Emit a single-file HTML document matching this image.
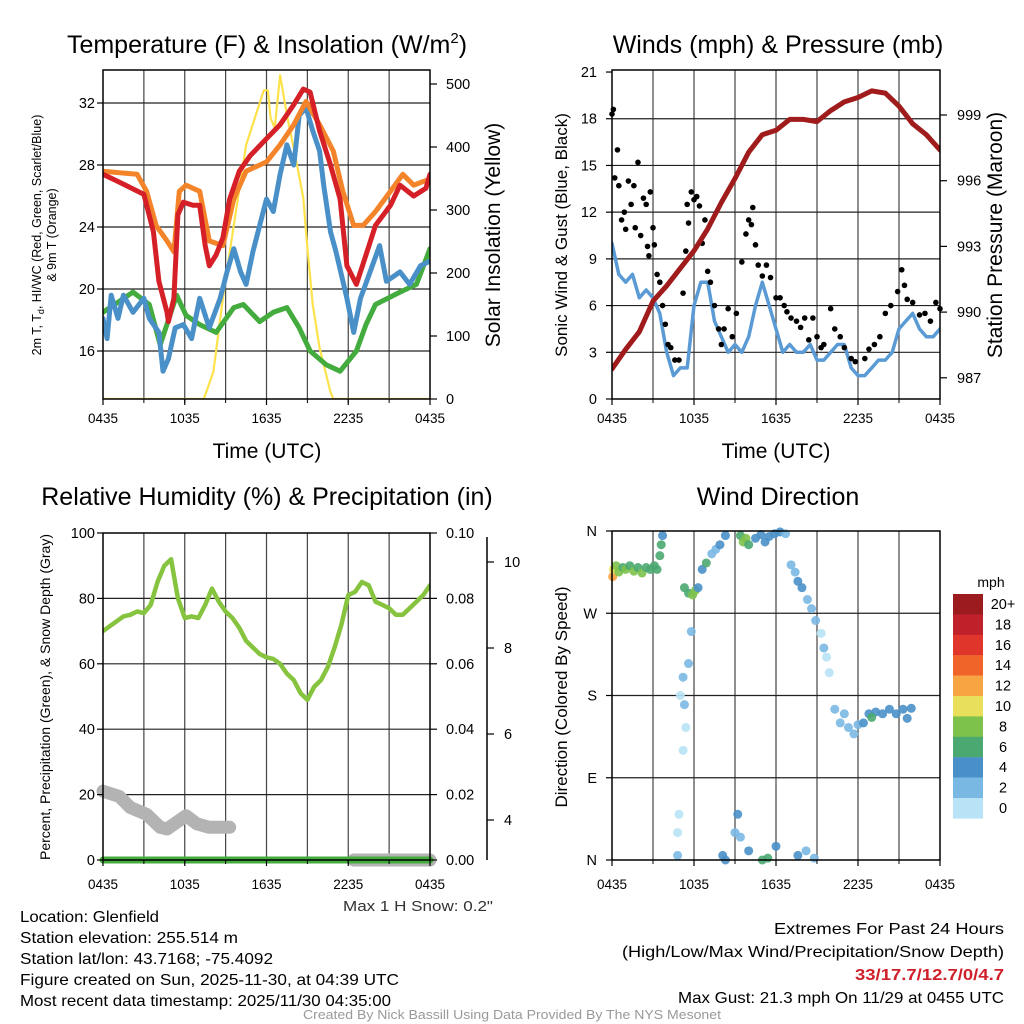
<!DOCTYPE html>
<html><head><meta charset="utf-8"><style>
body{margin:0;background:#fff;}
svg{display:block;font-family:"Liberation Sans",Arial,sans-serif;}
</style></head><body>
<svg id="fig" width="1024" height="1024" viewBox="0 0 1024 1024" xmlns="http://www.w3.org/2000/svg">
<rect width="1024" height="1024" fill="#fff"/>
<g id="grids"></g><g id="marks"></g><g id="axes"></g>
<g id="texts" font-size="16" fill="#000">
<text x="267" y="53" font-size="25" text-anchor="middle">Temperature (F) &amp; Insolation (W/m<tspan font-size="15" dy="-10">2</tspan><tspan dy="10">)</tspan></text>
<text x="778" y="53" font-size="25" text-anchor="middle">Winds (mph) &amp; Pressure (mb)</text>
<text x="267" y="505" font-size="25" text-anchor="middle">Relative Humidity (%) &amp; Precipitation (in)</text>
<text x="778" y="505" font-size="25" text-anchor="middle">Wind Direction</text>
<text x="267" y="458" font-size="21" text-anchor="middle">Time (UTC)</text>
<text x="776" y="458" font-size="21" text-anchor="middle">Time (UTC)</text>
<text font-size="12.5" text-anchor="middle" transform="translate(41,235) rotate(-90)">2m T, T<tspan font-size="9" dy="3">d</tspan><tspan dy="-3">, HI/WC (Red, Green, Scarlet/Blue)</tspan></text>
<text font-size="12.5" text-anchor="middle" transform="translate(56,235) rotate(-90)">&amp; 9m T (Orange)</text>
<text font-size="21" text-anchor="middle" transform="translate(500,235) rotate(-90)">Solar Insolation (Yellow)</text>
<text font-size="17" text-anchor="middle" transform="translate(567,235) rotate(-90)">Sonic Wind &amp; Gust (Blue, Black)</text>
<text font-size="21" text-anchor="middle" transform="translate(1002,235) rotate(-90)">Station Pressure (Maroon)</text>
<text font-size="14" text-anchor="middle" transform="translate(50,697) rotate(-90)">Percent, Precipitation (Green), &amp; Snow Depth (Gray)</text>
<text font-size="17" text-anchor="middle" transform="translate(567,697) rotate(-90)">Direction (Colored By Speed)</text>
<text x="343" y="911" font-size="15" fill="#333" textLength="150" lengthAdjust="spacingAndGlyphs">Max 1 H Snow: 0.2"</text>
<text x="20" y="922" textLength="139" lengthAdjust="spacingAndGlyphs">Location: Glenfield</text>
<text x="20" y="943" textLength="218" lengthAdjust="spacingAndGlyphs">Station elevation: 255.514 m</text>
<text x="20" y="964" textLength="253" lengthAdjust="spacingAndGlyphs">Station lat/lon: 43.7168; -75.4092</text>
<text x="20" y="985" textLength="379" lengthAdjust="spacingAndGlyphs">Figure created on Sun, 2025-11-30, at 04:39 UTC</text>
<text x="20" y="1006" textLength="371" lengthAdjust="spacingAndGlyphs">Most recent data timestamp: 2025/11/30 04:35:00</text>
<text x="774" y="934" textLength="230" lengthAdjust="spacingAndGlyphs">Extremes For Past 24 Hours</text>
<text x="622" y="957" textLength="382" lengthAdjust="spacingAndGlyphs">(High/Low/Max Wind/Precipitation/Snow Depth)</text>
<text x="855" y="980" fill="#d0202a" font-weight="bold" textLength="149" lengthAdjust="spacingAndGlyphs">33/17.7/12.7/0/4.7</text>
<text x="678" y="1003" textLength="326" lengthAdjust="spacingAndGlyphs">Max Gust: 21.3 mph On 11/29 at 0455 UTC</text>
<text x="303" y="1019" font-size="12.5" fill="#999" textLength="418" lengthAdjust="spacingAndGlyphs">Created By Nick Bassill Using Data Provided By The NYS Mesonet</text>
<text x="991" y="587" font-size="14" text-anchor="middle">mph</text>
</g>
</svg>
<script>
// ---- data ----
const xTickLabels = ["0435","1035","1635","2235","0435"];
const hourly = [0,1,2,3,4,5,6,7,8,9,10,11,12,13,14,15,16,17,18,19,20,21,22,23,24];
const halfHourly = [0,0.5,1,1.5,2,2.5,3,3.5,4,4.5,5,5.5,6,6.5,7,7.5,8,8.5,9,9.5,10,10.5,11,11.5,12,12.5,13,13.5,14,14.5,15,15.5,16,16.5,17,17.5,18,18.5,19,19.5,20,20.5,21,21.5,22,22.5,23,23.5,24];
const redHours = [0,1.2,3,3.7,4.1,4.7,4.8,5.2,5.5,5.9,6.6,7.1,7.5,7.8,8.3,8.8,9.3,10,10.8,12,13,14,14.7,15.2,15.9,16.7,17.4,17.9,18.6,19.3,20,21.1,21.8,22.8,23.7,24];
const tempRed = [27.4,26.9,26.1,23.7,20.5,18.5,17.9,19.4,24.8,25.6,25.4,25.4,22.8,21.5,22.2,23.3,25.8,27.6,28.6,29.7,30.6,31.9,32.9,32.7,30.2,28,25.8,21.5,20.3,22.2,24.1,25.4,26.7,26,26.5,27.4];
const orangeHours = [0,2.5,3.2,3.9,4.7,5.2,5.6,6.1,7.1,7.8,8.8,9.6,10.5,12,13,14,14.9,15.9,16.9,17.6,18.4,19.1,20,21.1,22,22.8,24];
const tempOrange = [27.6,27.4,26.3,24.1,23.1,22.4,26.3,26.7,26.3,23.1,22.8,25.8,27.6,28.2,29.3,30.6,32.1,30.6,28.9,26.3,24.1,24.1,25,26.3,27.4,26.7,27.1];
const blueHours = [0,0.3,0.6,1.1,1.5,2.2,3,3.4,4.1,4.4,4.8,5.3,5.9,6.5,7.1,7.8,8.6,9.1,9.6,10.1,10.5,11,11.5,12,12.5,13,13.5,14,14.4,14.9,15.4,15.9,16.2,16.7,17.1,17.9,18.4,18.9,19.6,20.3,20.8,21.8,22.5,23.3,24];
const dewBlue = [18.1,16.8,19.6,18.1,19.6,18.5,19.4,18.1,17.2,14.7,15.5,17.5,17.7,16.8,19.4,17.5,19.4,21.1,22.6,21.1,20.3,22.4,24.1,25.8,25,27.4,29.3,28,31.2,31.7,30.2,28.9,26.7,23.7,22.4,19.4,17.2,19.4,21.1,22.8,20.5,21.1,20.3,21.5,21.8];
const greenHours = [0,2.2,3.4,4.2,5.4,6.1,7.1,8.3,9.6,10.3,11.5,12.5,13.5,14.4,15.2,16.4,17.4,18.6,19.3,20,21.8,23,24];
const dewGreen = [18.5,19.8,19,16.4,19.6,18.3,17.7,17.2,18.8,19,17.9,18.5,18.8,17.5,16,15.1,14.7,16,17.7,19,19.8,20.3,22.6];
const solarHours = [0,7.4,8.1,8.8,9.6,10.5,11.8,12.1,12.3,12.6,13,13.5,14.2,14.7,15,15.4,15.9,16.7,16.9,24];
const solar = [0,0,43,160,276,403,490,490,446,430,514,451,376,319,240,149,81,11,0,0];
const windSpeed = [10,8,7.5,8,6.5,7,6.5,5.5,3,1.5,2,2,6,7.5,7.5,5,4,3,3.5,3,4,6,7.5,6,4.5,3,3.5,3,3,3.5,2.5,2.5,3,3.5,3.5,2,1.5,1.5,2,2.5,2.5,3,4.5,5,5.5,4.5,4,4,4.5];
const gustHours = [0,0.1,0.2,0.4,0.5,0.7,0.9,1,1.2,1.4,1.6,1.7,1.9,2.1,2.3,2.5,2.6,2.7,2.8,3,3.1,3.3,3.5,3.7,3.9,4.1,4.3,4.6,4.9,5.2,5.4,5.5,5.6,5.8,6,6.2,6.4,6.6,6.8,7,7.2,7.5,7.8,8,8.2,8.5,8.8,9.1,9.5,9.8,10,10.2,10.3,10.5,10.7,11,11.3,11.6,12,12.3,12.6,12.8,13.1,13.5,13.8,14.1,14.4,14.7,15,15.3,15.5,16,16.3,16.7,17,17.5,17.8,18.5,18.8,19.2,19.6,20,20.4,20.9,21.2,21.4,21.6,22,22.5,22.9,23.3,23.7,24];
const gusts = [18.3,18.6,14.2,16,13.7,11.5,12,10.9,14,12.5,13.7,11,15.2,10.5,12.9,12.5,9.8,9.2,13.3,11,9.9,8,7.5,6,4.8,3.5,3.3,2.5,2.5,6.8,9.5,12.5,11.3,13.3,12.8,13,12.4,10,11.5,8.2,7.5,6,4.5,3.5,4.5,5.8,4,5.5,8.8,10.6,11.5,11.2,12.3,9.9,8.6,7.9,8.6,7.8,6.5,6.5,6,5.6,5.2,5,4.6,5.2,3.8,5.2,4,3.3,3.5,5.8,4.5,4,3.3,2.6,2.4,2.6,3.2,3.5,4,5.5,6,6.9,8.3,7.3,6.4,6.2,5.4,5.5,5,6.2,5.8];
const pressure = [987.4,988.3,989.1,990.5,991.2,992,992.8,993.8,995,996.1,997.3,998.1,998.3,998.8,998.8,998.7,999.2,999.6,999.8,1000.1,1000,999.4,998.6,998.1,997.4];
const rh = [70,71.5,73,74.5,75,76,75.5,78,85,90,92,80,74,74.5,74,78,83,79,76,74,71,67,65,63,62,61.5,60,57,55,51,49,53,55,59,65,72,81,82,85,84,79,78,77,75,75,77,79,81,84];
const snowHours1 = [0,1.2,2,3.2,4.2,4.7,6.1,6.9,7.8,9.3];
const snowDepth1 = [4.67,4.55,4.29,4.13,3.83,3.79,4.1,3.91,3.83,3.83];
const snowHours2 = [18.4,24];
const snowDepth2 = [3.07,3.07];
const precip = [0,0];
const precipHours = [0,24];
const dirHours = [0.05,0.1,0.3,0.5,0.8,1.0,1.3,1.6,1.9,2.2,2.5,2.8,3.1,3.3,3.5,3.6,3.7,5.3,5.6,5.9,6.1,6.3,6.6,6.9,7.3,7.6,7.9,8.3,9.4,9.6,9.8,10,10.5,10.9,11.2,11.5,11.9,12.3,12.7,13.1,13.4,13.6,13.9,14.3,14.6,14.9,15.3,15.5,15.7,15.9,16.3,16.7,17,17.3,17.7,18,18.4,18.8,19.3,19.8,20.3,20.8,21.3,21.6,21.9,19.0,5.8,5.6,5.2,5.0,5.3,5.4,5.2,4.9,4.8,4.8,8.1,8.3,9.0,9.2,9.4,10.0,11.0,11.4,12.0,13.6,14.2,14.8];
const dirDeg = [310,318,322,315,320,318,322,316,320,314,320,318,322,318,333,345,355,298,292,290,295,298,318,325,335,340,345,355,355,348,352,345,352,356,348,354,357,359,357,323,315,305,298,285,275,262,248,232,222,205,165,150,160,145,138,148,150,160,162,160,165,160,165,155,166,156,250,215,200,180,170,145,120,50,30,5,5,0,30,50,25,10,0,2,15,5,10,2];
const dirSpeed = [13,10,8,9,7,8,6,8,7,8,7,6,7,6,6,6,4,6,7,8,8,4,4,6,2,2,4,4,6,8,8,6,4,4,4,4,4,4,2,2,2,4,4,2,2,2,0,2,0,0,2,2,2,2,2,2,4,4,4,4,4,4,4,4,4,6,2,2,2,0,2,0,0,0,0,2,4,4,2,4,2,4,6,6,4,4,2,2];
const cbLabels = ["20+","18","16","14","12","10","8","6","4","2","0"];
const cbColors = ["#9b1b1f","#c0202a","#e0352b","#f0642a","#f7a443","#e8e05a","#7dc24b","#4aa870","#4a90c8","#7ab8e4","#b8e3f6"];
const tempTicks = [16,20,24,28,32];
const solarTicks = [0,100,200,300,400,500];
const windTicks = [0,3,6,9,12,15,18,21];
const presTicks = [987,990,993,996,999];
const rhTicks = [0,20,40,60,80,100];
const precipTickLabels = ["0.00","0.02","0.04","0.06","0.08","0.10"];
const snowTicks = [4,6,8,10];
const dirTicks = [0,90,180,270,360];
const dirTickLabels = ["N","E","S","W","N"];

// ---- scales ----
const NS="http://www.w3.org/2000/svg";
const G=document.getElementById('grids'),M=document.getElementById('marks'),A=document.getElementById('axes');
function mk(parent,tag,at){const e=document.createElementNS(NS,tag);for(const k in at)e.setAttribute(k,at[k]);parent.appendChild(e);return e;}
const L={x0:103,x1:430}, R={x0:612,x1:940};
const xL=h=>L.x0+h*(L.x1-L.x0)/24, xR=h=>R.x0+h*(R.x1-R.x0)/24;
const yTemp=v=>103+(32-v)*15.5, ySolar=v=>399-v*0.63;
const yWind=v=>399-v*15.57, yPres=v=>115+(999-v)*21.9;
const yRH=v=>860-v*3.27, yPrecip=v=>860-v*3270, ySnow=v=>820-(v-4)*43;
const yDir=v=>860-v*329/360;

function path(xs,ys,xf,yf,color,w,name,clip){
  const d=xs.map((h,i)=>(i?'L':'M')+xf(h).toFixed(1)+','+yf(ys[i]).toFixed(1)).join('');
  const p=mk(M,'path',{d:d,fill:'none',stroke:color,'stroke-width':w,'stroke-linejoin':'round','stroke-linecap':'round'});
  if(clip)p.setAttribute('clip-path',clip);
  
  
}
function line(par,x1,y1,x2,y2,c,w){return mk(par,'line',{x1:x1,y1:y1,x2:x2,y2:y2,stroke:c,'stroke-width':w});}
function txt(x,y,s,anchor,size){const t=mk(A,'text',{x:x,y:y,'text-anchor':anchor,'font-size':size||14.5});t.textContent=s;return t;}

const defs=mk(document.getElementById('fig'),'defs',{});
[['c1',103,70,327,329],['c2',612,70,328,329],['c3',103,533,327,327]].forEach(c=>{const cp=mk(defs,'clipPath',{id:c[0]});mk(cp,'rect',{x:c[1],y:c[2],width:c[3],height:c[4]});});

function panelFrame(x0,x1,y0,y1,xf,hTicks,hf,name,labOff){
  for(let h=3;h<24;h+=3){const l=line(G,xf(h),y0,xf(h),y1,'#444',1.2);
    line(A,xf(h),y1,xf(h),y1+4,'#000',1);}
  hTicks.forEach(v=>{const l=line(G,x0,hf(v),x1,hf(v),'#222',1.2);});
  const r=mk(A,'rect',{x:x0,y:y0,width:x1-x0,height:y1-y0,fill:'none',stroke:'#000','stroke-width':1.5});
  
  
  for(let i=0;i<5;i++){const h=i*6;line(A,xf(h),y1,xf(h),y1+6,'#000',1.2);
    const t=txt(xf(h),y1+labOff,xTickLabels[i],'middle',13.5);
    
    }
}

// Panel 1
panelFrame(103,430,70,399,xL,tempTicks,yTemp,'temp',24);
tempTicks.forEach(v=>{line(A,97,yTemp(v),103,yTemp(v),'#000',1.2);const t=txt(95,yTemp(v)+5,v,'end');});
solarTicks.forEach(v=>{line(A,430,ySolar(v),437,ySolar(v),'#000',1.2);const t=txt(446,ySolar(v)+5,v,'start');});
path(solarHours,solar,xL,ySolar,'#fde24c',2.2,'solar-line','url(#c1)');
path(greenHours,dewGreen,xL,yTemp,'#44ab3e',5,'dewpoint-green-line','url(#c1)');
path(blueHours,dewBlue,xL,yTemp,'#4a90c8',5,'dewpoint-blue-line','url(#c1)');
path(orangeHours,tempOrange,xL,yTemp,'#f4842a',5,'temp-9m-orange-line','url(#c1)');
path(redHours,tempRed,xL,yTemp,'#d62027',5,'temp-2m-red-line','url(#c1)');

// Panel 2
panelFrame(612,940,70,399,xR,windTicks.slice(1,7),yWind,'wind',24);
windTicks.forEach(v=>{line(A,606,yWind(v),612,yWind(v),'#000',1.2);const t=txt(597,yWind(v)+5,v,'end');});
presTicks.forEach(v=>{line(A,940,yPres(v),947,yPres(v),'#000',1.2);const t=txt(957,yPres(v)+5,v,'start');});
path(halfHourly,windSpeed,xR,yWind,'#5b9bd5',3.5,'wind-speed-line','url(#c2)');
gustHours.forEach((h,i)=>{const c=mk(M,'circle',{cx:xR(h),cy:yWind(gusts[i]),r:2.8,fill:'#000'});
  
  });
path(hourly,pressure,xR,yPres,'#a01c1c',5,'pressure-line','url(#c2)');

// Panel 3
panelFrame(103,430,533,860,xL,[20,40,60,80],yRH,'rh',29);
rhTicks.forEach((v,i)=>{line(A,97,yRH(v),103,yRH(v),'#000',1.2);const t=txt(95,yRH(v)+5,v,'end');
  line(A,430,yRH(v),437,yRH(v),'#000',1.2);const t2=txt(446,yRH(v)+5,precipTickLabels[i],'start');});
const sAx=line(A,487,537,487,860,'#000',1.5);


snowTicks.forEach(v=>{line(A,487,ySnow(v),494,ySnow(v),'#000',1.2);const t=txt(504,ySnow(v)+5,v,'start');});
path(snowHours1,snowDepth1,xL,ySnow,'#b3b3b3',13,'snow-depth-line-1',null);
path(snowHours2,snowDepth2,xL,ySnow,'#b3b3b3',13,'snow-depth-line-2',null);
path(precipHours,precip,xL,yPrecip,'#44ab3e',7,'precip-line',null);
path(halfHourly,rh,xL,yRH,'#86c440',4.5,'rh-line','url(#c3)');

// Panel 4
for(let h=3;h<24;h+=3){const l=line(G,xR(h),531,xR(h),860,'#444',1.2);line(A,xR(h),860,xR(h),864,'#000',1);}
[90,180,270].forEach(v=>{const l=line(G,612,yDir(v),940,yDir(v),'#222',1.2);});
const f4=mk(A,'rect',{x:612,y:531,width:328,height:329,fill:'none',stroke:'#000','stroke-width':1.5});


for(let i=0;i<5;i++){line(A,xR(i*6),860,xR(i*6),866,'#000',1.2);const t=txt(xR(i*6),889,xTickLabels[i],'middle',13.5);}
dirTicks.forEach((v,i)=>{line(A,606,yDir(v),612,yDir(v),'#000',1.2);const t=txt(597,yDir(v)+5,dirTickLabels[i],'end');});
dirHours.forEach((h,i)=>{const b=Math.max(0,10-Math.min(10,Math.floor(dirSpeed[i]/2)));
  const c=mk(M,'circle',{cx:xR(h),cy:yDir(dirDeg[i]),r:4.5,fill:cbColors[b],'fill-opacity':0.9});
  
  });
cbColors.forEach((col,i)=>{const r=mk(A,'rect',{x:953,y:594+i*20.4,width:30,height:20.6,fill:col});
  
  
  const t=txt(1003,594+i*20.4+15,cbLabels[i],'middle',14.5);
  
  });
</script>
</body></html>
